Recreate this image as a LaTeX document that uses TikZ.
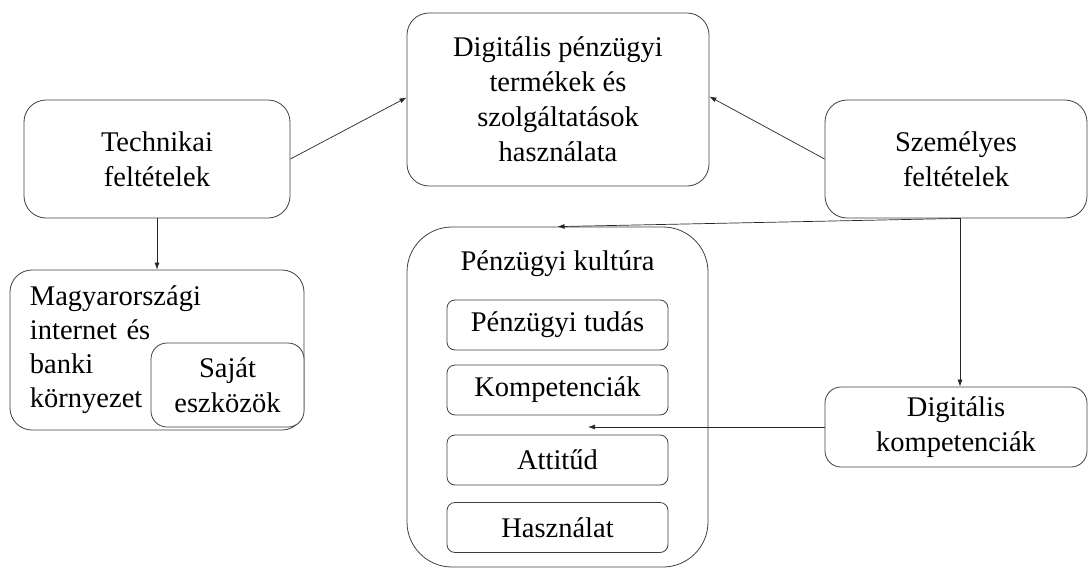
\documentclass[tikz,border=0pt]{standalone}
\usepackage{fontspec}
\setmainfont{Liberation Serif}
\usetikzlibrary{arrows.meta}
\begin{document}
\begin{tikzpicture}[x=1pt,y=-1pt,
    box/.style={draw=black!75,line width=0.8pt,rounded corners=22pt,align=center,
      inner sep=0pt,font=\fontsize{28.5}{35}\selectfont},
    smallbox/.style={box,rounded corners=8pt},
    arr/.style={-{Latex[length=7pt,width=5pt]},line width=0.7pt,draw=black!85}]
  \useasboundingbox (0,0) rectangle (1088,568);
  % upper row
  \node[box,minimum width=266pt,minimum height=118pt] (tech) at (157,159) {Technikai\\feltételek};
  \node[box,minimum width=302pt,minimum height=173pt] (prod) at (558,99.5)
    {Digitális pénzügyi\\termékek és\\szolgáltatások\\használata};
  \node[box,minimum width=262pt,minimum height=118pt] (pers) at (956,159) {Személyes\\feltételek};
  % left side
  \node[box,minimum width=294pt,minimum height=160pt,text width=254pt,align=left,
    font=\fontsize{28.5}{34}\selectfont] (hun) at (157,350)
    {Magyarországi\\internet és\\banki\\környezet};
  \node[box,rounded corners=16pt,fill=white,minimum width=153pt,minimum height=84pt]
    (own) at (227.5,385) {Saját\\eszközök};
  % financial culture
  \node[box,rounded corners=45pt,minimum width=301pt,minimum height=340pt] (cult) at (557.5,397) {};
  \node[font=\fontsize{28.5}{35}\selectfont] (cultTitle) at (557.5,264) {Pénzügyi kultúra};
  \foreach \name/\txt/\y in {know/Pénzügyi tudás/325,comp/Kompetenciák/390,
      att/Attitűd/460,use/Használat/527.5} {
    \node[smallbox,minimum width=221pt,minimum height=50pt] (\name) at (557.5,\y) {\txt};
  }
  % digital competences
  \node[box,rounded corners=16pt,minimum width=262pt,minimum height=80pt] (digc) at (956,427)
    {Digitális\\kompetenciák};
  % connectors
  \coordinate (cultArrow) at (588,0);
  \draw[arr] (tech.east) -- ([yshift=2pt]prod.west);
  \draw[arr] (pers.west) -- ([yshift=3pt]prod.east);
  \draw[arr] (tech.south) -- (hun.north);
  \draw[arr] ([xshift=4pt]pers.south) -- (cult.north);
  \draw[arr] ([xshift=4pt]pers.south) -- ([xshift=4pt]digc.north);
  \draw[arr] (digc.west) -- (digc.west -| cultArrow);
\end{tikzpicture}
\end{document}
